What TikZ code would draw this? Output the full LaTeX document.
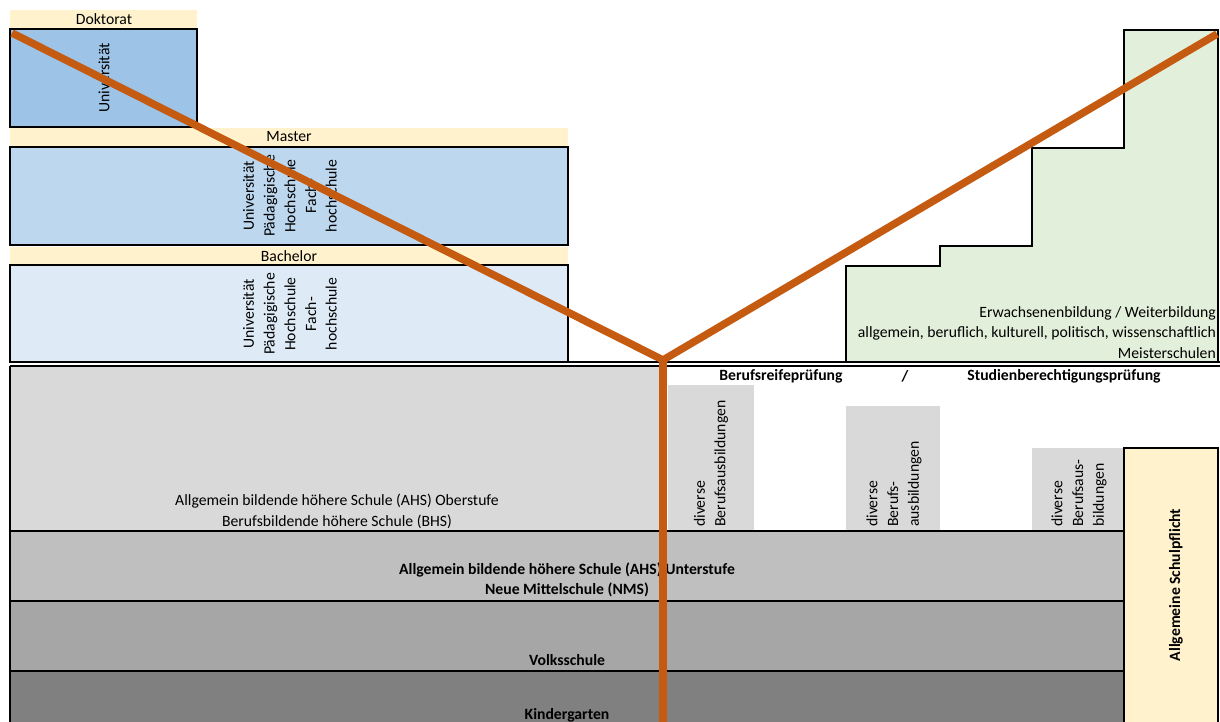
\documentclass[tikz,border=0pt]{standalone}
\usepackage{fontspec}
\setmainfont{Carlito}
\usepackage{tikz}
\definecolor{band}{HTML}{FFF2CC}
\definecolor{phdblue}{HTML}{9DC3E6}
\definecolor{mablue}{HTML}{BDD7EE}
\definecolor{bablue}{HTML}{DEEBF7}
\definecolor{adult}{HTML}{E2EFDA}
\definecolor{greyA}{HTML}{D9D9D9}
\definecolor{greyB}{HTML}{BFBFBF}
\definecolor{greyC}{HTML}{A6A6A6}
\definecolor{greyD}{HTML}{808080}
\definecolor{path}{HTML}{C55A11}

\begin{document}
\begin{tikzpicture}[x=1pt, y=-1pt,
        box/.style={draw, line width=2.2pt},
        txt/.style={font=\fontsize{15.7}{20.7}\selectfont, inner sep=2pt},
        bold/.style={font=\fontsize{15.7}{20.7}\selectfont\bfseries, inner sep=2pt},
        up/.style={rotate=90, align=center}]
        \useasboundingbox (0, 0) rectangle (1220, 722);

        % Hochschulen
        \fill[band] (10, 10) rectangle (197, 28);
        \draw[box, fill=phdblue] (10, 29) rectangle (197, 127);
        \fill[band] (10, 128) rectangle (568, 146);
        \draw[box, fill=mablue] (10, 147) rectangle (568, 245);
        \fill[band] (10, 247) rectangle (568, 264);
        \draw[box, fill=bablue] (10, 265) rectangle (568, 362);
        \node[txt] (doktorat) at (104, 19) {Doktorat};
        \node[txt, up] (uniphd) at (104, 78) {Universität};
        \node[txt] (master) at (289, 137) {Master};
        \node[txt, up] (unima) at (290, 196) {Universität\\Pädagigische\\Hochschule\\Fach-\\hochschule};
        \node[txt] (bachelor) at (289, 256) {Bachelor};
        \node[txt, up] (uniba) at (290, 314) {Universität\\Pädagigische\\Hochschule\\Fach-\\hochschule};

        % Erwachsenenbildung
        \draw[box, fill=adult] (846, 362) -- (846, 266) -- (940, 266) -- (940, 246) -- (1032, 246)
                -- (1032, 148) -- (1124, 148) -- (1124, 30) -- (1218, 30) -- (1218, 362);
        \node[txt, align=right, anchor=south east] (weiter) at (1218, 361)
                {Erwachsenenbildung / Weiterbildung\\allgemein, beruflich, kulturell, politisch, wissenschaftlich\\Meisterschulen};

        % Schulen
        \fill[greyA] (10, 366) rectangle (665, 531);
        \fill[greyB] (10, 531) rectangle (1124, 601);
        \fill[greyC] (10, 601) rectangle (1124, 671);
        \fill[greyD] (10, 671) rectangle (1124, 722);
        \foreach \xa/\xb/\ya in {668/754/385, 846/940/406, 1032/1124/448} {
                \fill[greyA] (\xa, \ya) rectangle (\xb, 531);
            }
        \foreach \yy in {362, 366} {
                \draw[line width=1.6pt] (10, \yy) -- (1220, \yy);
            }
        \foreach \yy in {531, 601, 671} {
                \draw[line width=2pt] (10, \yy) -- (1124, \yy);
            }
        \draw[line width=2.2pt] (10, 366) -- (10, 722);
        \draw[box, fill=band] (1124, 448) rectangle (1218, 724);

        \node[txt, align=center, anchor=south] (ahso) at (337, 531)
                {Allgemein bildende höhere Schule (AHS) Oberstufe\\Berufsbildende höhere Schule (BHS)};
        \node[bold, align=center] (ahsu) at (567, 580)
                {Allgemein bildende höhere Schule (AHS) Unterstufe\\Neue Mittelschule (NMS)};
        \node[bold] (volks) at (567, 660) {Volksschule};
        \node[bold] (kiga) at (567, 715) {Kindergarten};
        \node[bold] (brp) at (781, 376) {Berufsreifeprüfung};
        \node[bold] (slash) at (905, 376) {/};
        \node[bold] (sbp) at (1064, 376) {Studienberechtigungsprüfung};
        \node[txt, rotate=90, align=left, anchor=west] (div1) at (711, 529) {diverse\\Berufsausbildungen};
        \node[txt, rotate=90, align=left, anchor=west] (div2) at (894, 529) {diverse\\Berufs-\\ausbildungen};
        \node[txt, rotate=90, align=left, anchor=west] (div3) at (1079, 529) {diverse\\Berufsaus-\\bildungen};
        \node[bold, up] (pflicht) at (1176, 585) {Allgemeine Schulpflicht};

        % Bildungsweg
        \coordinate (start) at (12, 33);
        \coordinate (fork) at (663, 360);
        \coordinate (goal) at (1217, 34);
        \coordinate (base) at (663, 724);
        \draw[path, line width=7.5pt] (start) -- (fork) -- (goal);
        \draw[path, line width=7.5pt] (fork) -- (base);
    \end{tikzpicture}
\end{document}
